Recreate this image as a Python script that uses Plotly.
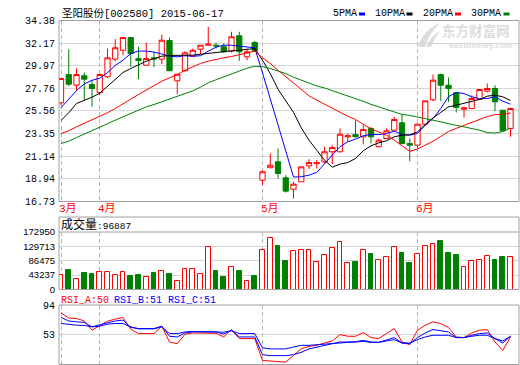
import plotly.graph_objects as go

# ---------------- data ----------------
dates = ["2015-03-25", "2015-03-26", "2015-03-27", "2015-03-30", "2015-03-31",
         "2015-04-01", "2015-04-02", "2015-04-03", "2015-04-07", "2015-04-08", "2015-04-09", "2015-04-10",
         "2015-04-13", "2015-04-14", "2015-04-15", "2015-04-16", "2015-04-17",
         "2015-04-20", "2015-04-21", "2015-04-22", "2015-04-23", "2015-04-24",
         "2015-04-27", "2015-04-28", "2015-04-29", "2015-04-30",
         "2015-05-04", "2015-05-05", "2015-05-06", "2015-05-07", "2015-05-08",
         "2015-05-11", "2015-05-12", "2015-05-13", "2015-05-14", "2015-05-15",
         "2015-05-18", "2015-05-19", "2015-05-20", "2015-05-21", "2015-05-22",
         "2015-05-25", "2015-05-26", "2015-05-27", "2015-05-28", "2015-05-29",
         "2015-06-01", "2015-06-02", "2015-06-03", "2015-06-04", "2015-06-05",
         "2015-06-08", "2015-06-09", "2015-06-10", "2015-06-11", "2015-06-12",
         "2015-06-15", "2015-06-16", "2015-06-17"]

open_ = [26.35, 29.11, 28.07, 28.99, 28.14, 27.36, 28.89, 30.61, 31.48, 32.72,
         30.67, 30.02, 30.74, 30.61, 32.43, 28.50, 29.48, 30.90, 31.58, 31.97,
         31.97, 31.82, 31.39, 32.89, 30.84, 32.23, 18.81, 20.02, 20.60, 19.04,
         17.93, 18.65, 20.21, 20.41, 20.60, 21.58, 21.58, 23.04, 23.26, 23.04,
         23.85, 22.07, 22.87, 23.68, 24.40, 22.39, 22.22, 24.27, 26.65, 29.11,
         28.07, 27.33, 25.73, 25.80, 26.68, 27.49, 27.75, 25.63, 23.85]
high = [28.75, 31.58, 29.70, 29.31, 28.56, 29.21, 31.65, 32.56, 32.79, 32.72,
        31.82, 32.21, 31.33, 33.01, 32.72, 29.14, 31.39, 31.65, 31.97, 33.77,
        32.23, 32.14, 33.28, 33.28, 31.65, 32.40, 19.78, 21.41, 21.90, 19.30,
        18.65, 20.11, 20.86, 20.76, 22.07, 22.22, 23.85, 23.36, 24.66, 24.17,
        24.02, 22.87, 23.85, 24.99, 25.21, 22.87, 24.34, 26.55, 29.11, 29.21,
        28.82, 27.36, 25.97, 27.10, 27.65, 28.24, 28.07, 25.63, 25.87]
low = [26.12, 27.97, 27.58, 26.61, 25.97, 27.10, 28.79, 30.41, 31.00, 29.87,
       28.66, 30.02, 29.83, 30.12, 29.48, 27.19, 29.38, 30.84, 31.09, 31.97,
       31.65, 31.23, 31.26, 30.45, 30.51, 31.33, 18.32, 20.02, 18.97, 17.61,
       17.02, 18.65, 19.88, 19.95, 20.44, 20.37, 21.51, 22.55, 22.97, 22.32,
       22.39, 21.99, 22.81, 23.62, 22.32, 20.66, 21.97, 24.17, 26.51, 26.51,
       26.45, 25.41, 24.92, 25.73, 26.61, 27.36, 25.54, 23.62, 23.04]
close = [28.72, 28.17, 29.11, 28.66, 27.75, 29.11, 30.74, 31.72, 32.72, 31.16,
         30.48, 30.67, 30.65, 32.46, 29.48, 29.14, 31.23, 31.48, 31.97, 32.07,
         31.91, 31.33, 32.79, 31.33, 31.33, 31.43, 19.63, 20.27, 19.46, 17.74,
         18.42, 20.11, 20.53, 20.53, 21.58, 22.00, 23.29, 23.14, 23.04, 23.75,
         23.04, 22.71, 23.62, 24.73, 22.39, 22.22, 24.27, 26.55, 28.56, 28.07,
         27.75, 25.90, 25.87, 26.77, 27.65, 27.75, 26.45, 23.62, 25.80]
volume = [43800, 59600, 32800, 50700, 47700, 52800, 52800, 43800, 52800, 41700,
          44700, 37800, 50700, 55700, 47700, 25900, 61600, 61600, 46800, 127000,
          56700, 38800, 67700, 56700, 25900, 41700, 119000, 154000, 131000, 84500,
          116000, 119000, 119000, 83500, 104000, 124000, 142000, 80500, 83500, 118000,
          107000, 88500, 97500, 127000, 110000, 80500, 107000, 130000, 136000, 146000,
          110000, 104000, 67700, 85500, 88500, 100000, 89500, 98400, 96887]

ma5 = [25.87, 26.70, 27.55, 28.20, 28.55, 28.75, 29.30, 30.00, 30.51, 31.16,
       31.40, 31.40, 31.30, 31.12, 30.90, 30.84, 30.94, 30.90, 30.94, 31.39,
       31.78, 31.97, 31.97, 31.88, 31.78, 31.72, 29.28, 26.75, 24.21, 21.70,
       19.12, 19.14, 19.30, 19.56, 20.44, 21.25, 22.07, 22.55, 22.81, 23.14,
       23.26, 23.26, 23.36, 23.59, 23.26, 23.20, 23.36, 24.17, 24.82, 25.80,
       26.95, 27.36, 27.26, 26.94, 26.77, 26.77, 26.94, 26.51, 26.22]
ma10 = [24.63, 25.38, 26.29, 26.58, 26.90, 27.29, 27.97, 28.63, 29.31, 29.70,
        30.09, 30.41, 30.65, 30.90, 30.97, 30.97, 30.97, 31.00, 31.09, 31.19,
        31.29, 31.36, 31.42, 31.48, 31.58, 31.65, 30.51, 29.21, 27.68, 26.61,
        25.42, 23.92, 22.71, 21.73, 20.76, 20.08, 20.37, 20.53, 20.92, 21.68,
        22.16, 22.45, 22.65, 23.04, 23.20, 23.23, 23.52, 24.24, 24.89, 25.41,
        25.96, 26.12, 26.29, 26.45, 26.68, 27.00, 27.10, 26.94, 26.58]
ma20 = [23.36, 23.62, 24.01, 24.34, 24.66, 24.99, 25.38, 25.80, 26.29, 26.71,
        27.16, 27.58, 28.07, 28.46, 28.79, 29.11, 29.53, 29.87, 30.19, 30.41,
        30.61, 30.74, 30.87, 31.03, 31.23, 31.39, 30.74, 30.19, 29.53, 28.89,
        28.24, 27.65, 27.04, 26.61, 26.22, 25.83, 25.41, 25.05, 24.73, 24.24,
        23.80, 23.52, 23.20, 22.71, 22.12, 21.62, 21.85, 22.20, 22.60, 23.08,
        23.55, 23.86, 24.15, 24.45, 24.75, 25.02, 25.20, 25.23, 25.37]
ma30 = [22.39, 22.61, 22.97, 23.29, 23.62, 23.97, 24.31, 24.66, 24.99, 25.31,
        25.63, 25.96, 26.19, 26.45, 26.71, 27.00, 27.26, 27.52, 27.88, 28.30,
        28.60, 28.89, 29.21, 29.48, 29.73, 29.92, 29.87, 29.70, 29.44, 29.21,
        28.85, 28.55, 28.30, 28.00, 27.80, 27.55, 27.30, 27.05, 26.80, 26.50,
        26.20, 25.95, 25.70, 25.45, 25.22, 25.12, 24.99, 24.82, 24.66, 24.50,
        24.30, 24.15, 24.01, 23.85, 23.68, 23.45, 23.40, 23.55, 23.90]

rsi_a = [83.3, 76.0, 75.5, 72.0, 59.3, 65.7, 71.8, 74.5, 76.9, 60.6,
         54.6, 54.6, 54.6, 64.8, 43.0, 40.7, 53.7, 55.5, 55.5, 56.0,
         55.0, 50.0, 60.2, 47.7, 47.7, 47.7, 17.6, 16.9, 16.9, 15.2,
         24.5, 33.8, 37.0, 38.4, 41.6, 44.4, 53.2, 50.9, 50.9, 56.0,
         49.1, 47.7, 54.6, 61.6, 43.0, 39.3, 59.3, 66.2, 70.8, 68.5,
         63.0, 50.0, 49.1, 55.5, 59.3, 60.2, 43.0, 31.4, 50.0]
rsi_b = [76.9, 72.0, 70.8, 70.0, 63.9, 66.2, 69.5, 72.0, 73.2, 63.0,
         61.6, 61.6, 61.6, 64.8, 50.9, 50.0, 55.5, 57.0, 57.0, 57.5,
         57.0, 54.0, 59.3, 50.0, 50.0, 50.0, 25.6, 24.2, 24.2, 24.2,
         25.6, 28.8, 33.5, 36.1, 38.4, 40.7, 43.0, 43.0, 43.4, 45.3,
         43.0, 42.5, 46.3, 49.1, 41.6, 40.7, 49.1, 55.5, 60.2, 58.4,
         56.9, 49.1, 49.1, 52.3, 54.6, 55.5, 47.7, 41.6, 51.0]
rsi_c = [68.5, 67.0, 66.2, 65.7, 63.9, 64.8, 67.6, 68.5, 68.5, 63.9,
         61.1, 61.1, 61.1, 63.9, 54.6, 54.6, 56.9, 57.5, 57.5, 57.5,
         57.5, 56.5, 58.4, 54.6, 54.6, 54.6, 34.9, 33.5, 33.5, 33.5,
         36.1, 38.4, 38.4, 39.3, 39.8, 41.6, 42.5, 42.5, 43.0, 43.9,
         42.5, 42.5, 44.4, 46.3, 41.6, 41.6, 46.3, 50.0, 52.3, 52.3,
         52.3, 49.1, 49.1, 50.9, 52.3, 52.3, 47.7, 44.4, 51.0]

price_ticks = [16.73, 18.94, 21.14, 23.35, 25.56, 27.76, 29.97, 32.17, 34.38]
vol_ticks = [0, 43237, 86475, 129713, 172950]
rsi_ticks = [12, 53, 94]
stock_name = "圣阳股份"
stock_code = "002580"
ma_names = ["5PMA", "10PMA", "20PMA", "30PMA"]
ma_colors = ["#0000ff", "#000000", "#ff0000", "#008000"]

# ---------------- layout helpers ----------------
W, H = 520, 365
def px(x):
    return x / W
def py(y):
    return 1 - y / H

RED, GREEN = "#ff0000", "#008000"
FRAME = "#a0a0a0"
GRID = "#d6d6d6"
WM = "#dcdcdc"
MONO = "Liberation Mono, Noto Sans CJK SC, monospace"
CJK = "Noto Sans CJK SC, Liberation Mono"

xs = list(range(len(dates)))
month_starts = [i for i in xs if i == 0 or dates[i][:7] != dates[i - 1][:7]]
month_labels = [str(int(dates[i][5:7])) + "月" for i in month_starts]
XLEFT, XRIGHT = 59, 519
step = 7.75
x0 = (XLEFT - 61) / step
x1 = x0 + (XRIGHT - XLEFT) / step
xrange = [x0, x1]

up = [c >= o for o, c in zip(open_, close)]

fig = go.Figure()
fig.add_trace(go.Candlestick(
    x=xs, open=open_, high=high, low=low, close=close,
    increasing=dict(line=dict(color=RED, width=1), fillcolor="#ffffff"),
    decreasing=dict(line=dict(color=GREEN, width=1), fillcolor=GREEN),
    whiskerwidth=0, hoverinfo="skip", xaxis="x", yaxis="y"))
for name, vals, col in zip(ma_names, [ma5, ma10, ma20, ma30], ma_colors):
    fig.add_trace(go.Scatter(x=xs, y=vals, mode="lines", name=name,
                             line=dict(color=col, width=1), hoverinfo="skip",
                             xaxis="x", yaxis="y"))
fig.add_trace(go.Bar(
    x=xs, y=volume, width=0.64,
    marker=dict(color=["#ffffff" if u else GREEN for u in up],
                line=dict(color=[RED if u else GREEN for u in up], width=1)),
    hoverinfo="skip", xaxis="x2", yaxis="y2"))
for vals, col in zip([rsi_a, rsi_b, rsi_c], [RED, "#0000ff", "#0000ff"]):
    fig.add_trace(go.Scatter(x=xs, y=vals, mode="lines",
                             line=dict(color=col, width=1), hoverinfo="skip",
                             xaxis="x3", yaxis="y3"))

def xaxis(anchor):
    return dict(domain=[px(XLEFT), px(XRIGHT)], range=xrange, anchor=anchor,
                showticklabels=False, tickvals=month_starts, ticks="",
                showgrid=True, gridcolor="#b4b4b4", griddash="4px,3px", gridwidth=1,
                zeroline=False, showline=False, fixedrange=True, automargin=False)

def yaxis(anchor, dom, rng, ticks, text, font):
    return dict(domain=dom, range=rng, anchor=anchor, tickvals=ticks, ticktext=text,
                tickfont=font, ticks="", showgrid=True, gridcolor=GRID, gridwidth=1,
                zeroline=False, showline=False, fixedrange=True, ticklabelstandoff=3,
                automargin=False)

tickfont = dict(family=MONO, size=10, color="#000000")
volfont = dict(family="Liberation Sans, Arial", size=9.5, color="#000000")

shapes = []
def rect(xa, ya, xb, yb, color=FRAME):
    shapes.append(dict(type="rect", xref="paper", yref="paper",
                       x0=px(xa), x1=px(xb), y0=py(yb), y1=py(ya),
                       line=dict(color=color, width=1), fillcolor="rgba(0,0,0,0)", layer="above"))
rect(XLEFT, 20.5, XRIGHT, 201.5)
rect(XLEFT, 217, XRIGHT, 289.5)
rect(XLEFT, 305, XRIGHT, 364.5)
shapes.append(dict(type="line", xref="paper", yref="paper", x0=px(XLEFT), x1=px(XRIGHT),
                   y0=py(232), y1=py(232), line=dict(color=FRAME, width=1)))

# watermark logo (decorative swoosh)
def path(points):
    cmds = []
    for cmd, pts in points:
        cmds.append(cmd + " " + " ".join(f"{px(a):.5f},{py(b):.5f}" for a, b in pts))
    return " ".join(cmds) + " Z"
shapes.append(dict(type="path", xref="paper", yref="paper", layer="below",
                   path=path([("M", [(418, 47)]), ("Q", [(423, 30), (440, 23)]),
                              ("Q", [(429, 33), (425, 47)])]),
                   fillcolor=WM, line=dict(width=0)))
shapes.append(dict(type="path", xref="paper", yref="paper", layer="below",
                   path=path([("M", [(426, 47)]), ("Q", [(431, 36), (440, 31)]),
                              ("Q", [(434, 39), (431, 47)])]),
                   fillcolor=WM, line=dict(width=0)))

annotations = []
def text(x, y, s, font, anchor="left", color="#000000"):
    f = dict(font)
    f["color"] = color
    annotations.append(dict(x=px(x), y=py(y), xref="paper", yref="paper", text=s,
                            showarrow=False, xanchor=anchor, yanchor="middle",
                            font=f, borderpad=0))

text(61, 14, f"{stock_name}[{stock_code}] {dates[-1]}", dict(family=MONO, size=10.5))

# MA legend
leg_x = [331.5, 374, 421.5, 470]
sw_x = [359, 406.5, 455, 503.5]
for name, col, lx, sx in zip(ma_names, ma_colors, leg_x, sw_x):
    text(lx, 14, name, dict(family=MONO, size=10))
    shapes.append(dict(type="rect", xref="paper", yref="paper", x0=px(sx), x1=px(sx + 6),
                       y0=py(15.5), y1=py(12.5), line=dict(width=0), fillcolor=col))

# watermark text
text(441, 29.5, "东方财富网", dict(family=CJK, size=13.5, weight="bold"), color=WM)
text(447.5, 44.5, "eastmoney.com", dict(family="Liberation Sans, Arial", size=8.5, weight="bold"), color=WM)

# month labels
for i, lab in zip(month_starts, month_labels):
    annotations.append(dict(x=i, y=py(208.5), xref="x", yref="paper", text=lab,
                            showarrow=False, xanchor="left", yanchor="middle", xshift=-3,
                            font=dict(family=MONO, size=11, color=RED), borderpad=0))

# panel headers
text(59.5, 225.5, f'<span style="font-size:12px">成交量</span>:{volume[-1]}', dict(family=MONO, size=9.5))
rsi_vals = [rsi_a[-1], rsi_b[-1], rsi_c[-1]]
for lab, v, col, lx in zip(["RSI_A", "RSI_B", "RSI_C"], rsi_vals, [RED, "#0000ff", "#0000ff"], [60, 113, 167]):
    text(lx, 300, f"{lab}:{round(v)}", dict(family=MONO, size=10), color=col)

fig.update_layout(
    width=W, height=H, margin=dict(l=0, r=0, t=0, b=0, autoexpand=False),
    paper_bgcolor="#ffffff", plot_bgcolor="#ffffff",
    showlegend=False, boxgap=0.32, boxgroupgap=0, bargap=0,
    xaxis=dict(xaxis("y"), rangeslider=dict(visible=False)),
    xaxis2=xaxis("y2"), xaxis3=xaxis("y3"),
    yaxis=yaxis("x", [py(201.5), py(20.5)], [16.73, 34.38], price_ticks,
                [f"{v:.2f}" for v in price_ticks], tickfont),
    yaxis2=yaxis("x2", [py(289.5), py(232)], [0, 172950], vol_ticks,
                 [str(v) for v in vol_ticks], volfont),
    yaxis3=yaxis("x3", [py(364.5), py(305)], [12, 94], rsi_ticks,
                 [str(v) for v in rsi_ticks], tickfont),
    shapes=shapes, annotations=annotations,
)

fig.write_html("out.html", config={"displayModeBar": False},
               post_script="document.body.style.margin='0';document.body.style.padding='0';")
